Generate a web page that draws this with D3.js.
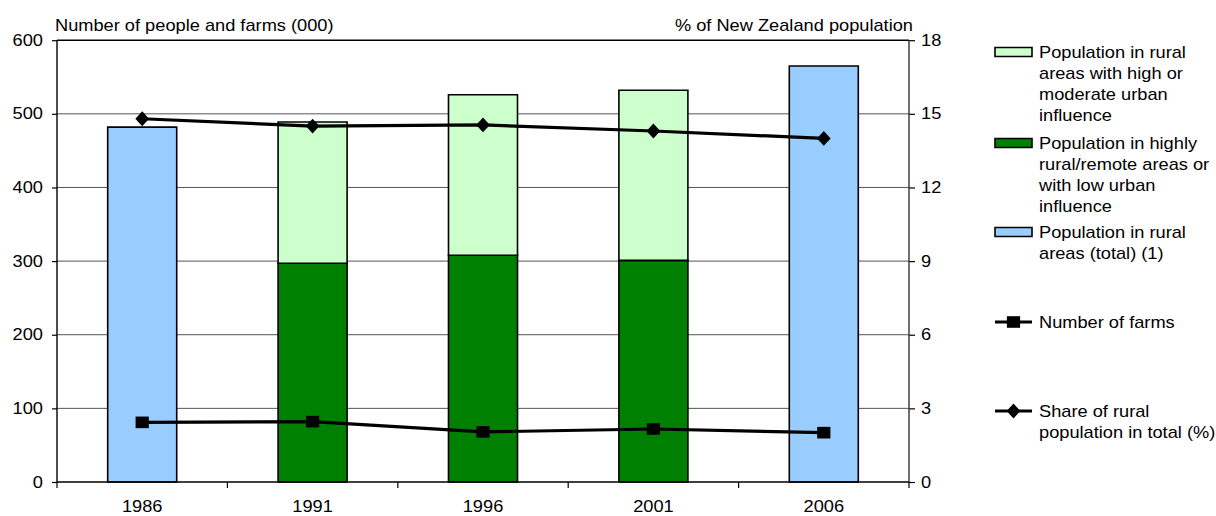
<!DOCTYPE html>
<html>
<head>
<meta charset="utf-8">
<script src="https://cdn.jsdelivr.net/npm/d3@7"></script>
<style>
  html, body { margin: 0; padding: 0; background: #fff; }
  svg { display: block; }
  text { font-family: "Liberation Sans", Arial, sans-serif; fill: #000; }
</style>
</head>
<body>
<svg id="chart" width="1216" height="516"></svg>
<script>
// Census years
const years = ["1986", "1991", "1996", "2001", "2006"];
// Population in rural areas (total), thousands
const ruralTotal = [482, null, null, null, 565];
// Population in highly rural/remote areas or with low urban influence, thousands
const highlyRural = [null, 297, 308, 301, null];
// Population in rural areas with high or moderate urban influence, thousands
const urbanInfluence = [null, 192, 218, 231, null];
// Number of farms, thousands
const farms = [81, 82, 68, 72, 67];
// Share of rural population in total NZ population, %
const sharePct = [14.8, 14.5, 14.55, 14.3, 14.0];

const leftTicks = [0, 100, 200, 300, 400, 500, 600];
const rightTicks = [0, 3, 6, 9, 12, 15, 18];

// Drawing is done in a slightly narrower coordinate space and stretched to the page width
const SX = 1.14;
const W = 1216 / SX, H = 516;
const svg = d3.select("#chart")
  .attr("viewBox", `0 0 ${W} ${H}`)
  .attr("preserveAspectRatio", "none");

const FS = 16;
const plot = { left: 57 / SX, right: 909 / SX, top: 40.2, bottom: 482 };

const x = d3.scaleBand().domain(years)
  .range([plot.left, plot.right])
  .paddingInner(0.595).paddingOuter(0.2975);
const yL = d3.scaleLinear().domain([0, 600]).range([plot.bottom, plot.top]);
const yR = d3.scaleLinear().domain([0, 18]).range([plot.bottom, plot.top]);

// Horizontal gridlines
svg.append("g").selectAll("line").data(leftTicks.slice(1, -1)).join("line")
  .attr("x1", plot.left).attr("x2", plot.right)
  .attr("y1", d => yL(d)).attr("y2", d => yL(d))
  .attr("stroke", "#555").attr("stroke-width", 1)
  .attr("vector-effect", "non-scaling-stroke");
svg.append("line")
  .attr("x1", plot.left).attr("x2", plot.right)
  .attr("y1", yL(600)).attr("y2", yL(600))
  .attr("stroke", "#000").attr("stroke-width", 1.4)
  .attr("vector-effect", "non-scaling-stroke");

// Bars
const barStroke = g => g.attr("stroke", "#000").attr("stroke-width", 1.6)
  .attr("vector-effect", "non-scaling-stroke");
const bars = svg.append("g");
const rows = years.map((yr, i) => ({ yr, total: ruralTotal[i], low: highlyRural[i], high: urbanInfluence[i] }));

bars.selectAll("rect.total").data(rows.filter(d => d.total != null)).join("rect")
  .attr("class", "total")
  .attr("x", d => x(d.yr)).attr("width", x.bandwidth())
  .attr("y", d => yL(d.total)).attr("height", d => yL(0) - yL(d.total))
  .attr("fill", "#99ccff").call(barStroke);

bars.selectAll("rect.low").data(rows.filter(d => d.low != null)).join("rect")
  .attr("class", "low")
  .attr("x", d => x(d.yr)).attr("width", x.bandwidth())
  .attr("y", d => yL(d.low)).attr("height", d => yL(0) - yL(d.low))
  .attr("fill", "#008000").call(barStroke);

bars.selectAll("rect.high").data(rows.filter(d => d.high != null)).join("rect")
  .attr("class", "high")
  .attr("x", d => x(d.yr)).attr("width", x.bandwidth())
  .attr("y", d => yL(d.low + d.high)).attr("height", d => yL(d.low) - yL(d.low + d.high))
  .attr("fill", "#ccffcc").call(barStroke);

// Left axis
const axL = svg.append("g").attr("transform", `translate(${plot.left},0)`)
  .call(d3.axisLeft(yL).tickValues(leftTicks).tickSize(5 / SX).tickPadding(9 / SX));
axL.select(".domain").remove();
axL.append("line").attr("x1", 0).attr("x2", 0).attr("y1", plot.top).attr("y2", plot.bottom)
  .attr("stroke", "#000").attr("stroke-width", 1.4).attr("vector-effect", "non-scaling-stroke");

// Right axis
const axR = svg.append("g").attr("transform", `translate(${plot.right},0)`)
  .call(d3.axisRight(yR).tickValues(rightTicks).tickSize(6 / SX).tickPadding(6 / SX));
axR.select(".domain").remove();
axR.append("line").attr("x1", 0).attr("x2", 0).attr("y1", plot.top).attr("y2", plot.bottom)
  .attr("stroke", "#333").attr("stroke-width", 1.4).attr("vector-effect", "non-scaling-stroke");

// Bottom axis: labels centred on categories, tick marks on category boundaries
const axB = svg.append("g").attr("transform", `translate(0,${plot.bottom})`)
  .call(d3.axisBottom(x).tickSize(0).tickPadding(19));
axB.select(".domain").remove();
axB.append("line").attr("x1", plot.left).attr("x2", plot.right).attr("y1", 0).attr("y2", 0)
  .attr("stroke", "#000").attr("stroke-width", 1.4).attr("vector-effect", "non-scaling-stroke");
const bounds = d3.range(years.length + 1).map(i => plot.left + i * x.step());
axB.selectAll("line.bt").data(bounds).join("line").attr("class", "bt")
  .attr("x1", d => d).attr("x2", d => d).attr("y1", 0).attr("y2", 6)
  .attr("stroke", "#000").attr("stroke-width", 1.2).attr("vector-effect", "non-scaling-stroke");

svg.selectAll(".tick line").attr("stroke", "#000").attr("stroke-width", 1.2)
  .attr("vector-effect", "non-scaling-stroke");
svg.selectAll(".tick text").attr("font-size", FS).attr("fill", "#000")
  .style("font-family", '"Liberation Sans", Arial, sans-serif');

// Axis titles
svg.append("text").attr("x", 55 / SX).attr("y", 31).attr("font-size", FS)
  .text("Number of people and farms (000)");
svg.append("text").attr("x", 913 / SX).attr("y", 31).attr("font-size", FS)
  .attr("text-anchor", "end").text("% of New Zealand population");

// Lines
const cx = d => x(d) + x.bandwidth() / 2;
const lineStyle = p => p.attr("fill", "none").attr("stroke", "#000").attr("stroke-width", 3.2)
  .attr("vector-effect", "non-scaling-stroke");

const farmPts = years.map((yr, i) => [cx(yr), yL(farms[i])]);
const sharePts = years.map((yr, i) => [cx(yr), yR(sharePct[i])]);

svg.append("path").attr("d", d3.line()(farmPts)).call(lineStyle);
svg.append("path").attr("d", d3.line()(sharePts)).call(lineStyle);

const SQ = 11.6;
svg.append("g").selectAll("rect").data(farmPts).join("rect")
  .attr("x", d => d[0] - SQ / 2).attr("y", d => d[1] - SQ / 2)
  .attr("width", SQ).attr("height", SQ).attr("fill", "#000");

const diamond = (px, py, hw, hh) => `M${px},${py - hh}L${px + hw},${py}L${px},${py + hh}L${px - hw},${py}Z`;
svg.append("g").selectAll("path").data(sharePts).join("path")
  .attr("d", d => diamond(d[0], d[1], 6, 7.4)).attr("fill", "#000");

// Legend
const legend = [
  { type: "box", fill: "#ccffcc", lines: ["Population in rural", "areas with high or", "moderate urban", "influence"], y: 52 },
  { type: "box", fill: "#008000", lines: ["Population in highly", "rural/remote areas or", "with low urban", "influence"], y: 143 },
  { type: "box", fill: "#99ccff", lines: ["Population in rural", "areas (total) (1)"], y: 232 },
  { type: "square", lines: ["Number of farms"], y: 322 },
  { type: "diamond", lines: ["Share of rural", "population in total (%)"], y: 411 }
];
const LX0 = 995 / SX, LX1 = 1032 / SX, LTX = 1039 / SX, LH = 21;
const lg = svg.append("g");
legend.forEach(e => {
  if (e.type === "box") {
    lg.append("rect").attr("x", LX0).attr("y", e.y - 4.5).attr("width", LX1 - LX0).attr("height", 9)
      .attr("fill", e.fill).attr("stroke", "#000").attr("stroke-width", 1.6)
      .attr("vector-effect", "non-scaling-stroke");
  } else {
    lg.append("line").attr("x1", LX0).attr("x2", LX1).attr("y1", e.y).attr("y2", e.y)
      .attr("stroke", "#000").attr("stroke-width", 3.2).attr("vector-effect", "non-scaling-stroke");
    const mx = (LX0 + LX1) / 2;
    if (e.type === "square") {
      lg.append("rect").attr("x", mx - SQ / 2).attr("y", e.y - SQ / 2)
        .attr("width", SQ).attr("height", SQ).attr("fill", "#000");
    } else {
      lg.append("path").attr("d", diamond(mx, e.y, 6, 7.4)).attr("fill", "#000");
    }
  }
  const t = lg.append("text").attr("x", LTX).attr("y", e.y).attr("font-size", FS);
  e.lines.forEach((ln, i) => {
    t.append("tspan").attr("x", LTX).attr("y", e.y + i * LH).attr("dy", "0.36em").text(ln);
  });
});
</script>
</body>
</html>
